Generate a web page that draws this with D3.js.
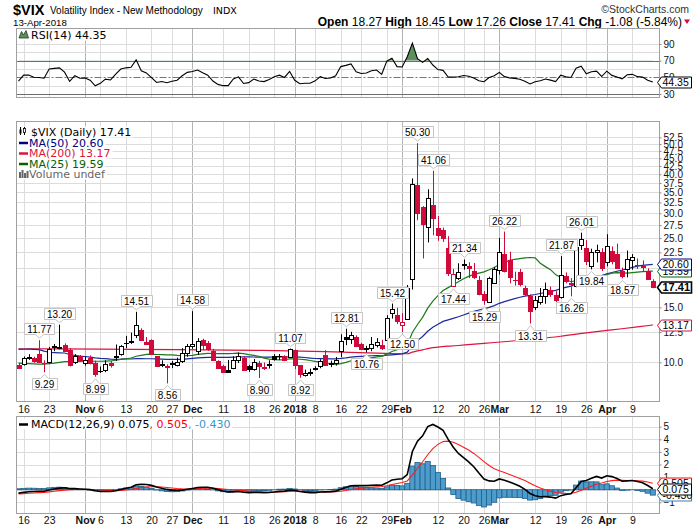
<!DOCTYPE html>
<html><head><meta charset="utf-8">
<script src="https://cdn.jsdelivr.net/npm/d3@7"></script>
<style>body{margin:0;background:#fff;} svg{display:block;font-family:"Liberation Sans",Arial,sans-serif;}</style>
</head><body><svg id="c" width="700" height="530"></svg>
<script>
// ---------------- DATA ----------------
const dates = [
"2017-10-13","2017-10-16","2017-10-17","2017-10-18","2017-10-19","2017-10-20","2017-10-23","2017-10-24","2017-10-25","2017-10-26","2017-10-27","2017-10-30","2017-10-31",
"2017-11-01","2017-11-02","2017-11-03","2017-11-06","2017-11-07","2017-11-08","2017-11-09","2017-11-10","2017-11-13","2017-11-14","2017-11-15","2017-11-16","2017-11-17","2017-11-20","2017-11-21","2017-11-22","2017-11-24","2017-11-27","2017-11-28","2017-11-29","2017-11-30",
"2017-12-01","2017-12-04","2017-12-05","2017-12-06","2017-12-07","2017-12-08","2017-12-11","2017-12-12","2017-12-13","2017-12-14","2017-12-15","2017-12-18","2017-12-19","2017-12-20","2017-12-21","2017-12-22","2017-12-26","2017-12-27","2017-12-28","2017-12-29",
"2018-01-02","2018-01-03","2018-01-04","2018-01-05","2018-01-08","2018-01-09","2018-01-10","2018-01-11","2018-01-12","2018-01-16","2018-01-17","2018-01-18","2018-01-19","2018-01-22","2018-01-23","2018-01-24","2018-01-25","2018-01-26","2018-01-29","2018-01-30","2018-01-31",
"2018-02-01","2018-02-02","2018-02-05","2018-02-06","2018-02-07","2018-02-08","2018-02-09","2018-02-12","2018-02-13","2018-02-14","2018-02-15","2018-02-16","2018-02-20","2018-02-21","2018-02-22","2018-02-23","2018-02-26","2018-02-27","2018-02-28",
"2018-03-01","2018-03-02","2018-03-05","2018-03-06","2018-03-07","2018-03-08","2018-03-09","2018-03-12","2018-03-13","2018-03-14","2018-03-15","2018-03-16","2018-03-19","2018-03-20","2018-03-21","2018-03-22","2018-03-23","2018-03-26","2018-03-27","2018-03-28","2018-03-29",
"2018-04-02","2018-04-03","2018-04-04","2018-04-05","2018-04-06","2018-04-09","2018-04-10","2018-04-11","2018-04-12","2018-04-13"];

const opens = [
9.80,9.85,10.40,10.30,10.60,9.95,10.05,11.25,11.15,11.35,10.95,10.00,10.45,
9.95,10.35,9.95,9.35,9.45,9.95,10.40,10.65,11.55,11.70,12.20,12.70,11.60,11.80,10.45,9.80,9.72,9.95,9.80,10.10,10.70,
11.30,10.85,11.75,11.55,10.90,10.10,9.75,9.42,9.60,10.20,10.30,9.75,9.50,9.95,9.68,9.82,10.50,10.50,10.45,10.40,
10.95,9.80,9.10,9.30,9.59,9.70,10.55,9.95,9.95,10.85,12.05,11.85,12.05,11.45,11.05,11.15,11.40,11.40,11.80,14.40,14.15,
13.20,13.76,18.44,37.00,31.36,27.10,31.90,27.00,26.50,23.30,17.60,18.60,20.55,20.40,19.60,18.40,16.50,15.60,18.00,
19.80,22.30,21.30,18.30,19.40,17.30,16.30,15.05,15.60,16.30,17.00,16.40,16.20,18.90,17.90,17.60,23.70,23.20,20.30,22.60,22.60,
20.90,22.80,22.30,19.60,19.90,21.30,20.50,20.30,19.60,18.27];
const highs = [
9.95,10.44,10.62,10.42,11.77,10.15,11.20,11.45,13.20,11.50,11.10,10.62,10.55,
10.42,10.52,10.12,9.70,10.15,10.10,11.40,11.35,12.15,12.45,14.51,12.85,12.05,11.85,10.45,10.15,9.85,10.10,10.35,11.10,11.45,
14.58,11.95,11.90,11.70,11.05,10.15,9.82,10.18,10.45,10.75,10.42,9.82,10.25,10.10,9.98,10.15,10.62,10.63,10.53,11.07,
10.99,9.80,9.47,9.54,9.71,10.23,10.93,10.12,10.40,12.30,12.81,12.52,12.20,11.54,11.30,12.05,11.95,11.80,14.15,15.42,14.95,
14.37,17.68,38.80,50.30,31.64,35.80,41.06,29.40,27.00,25.35,19.90,20.75,21.34,20.90,20.80,18.90,16.90,18.80,20.20,
25.00,26.22,22.60,19.50,19.90,17.60,16.50,16.30,17.30,18.00,17.50,16.90,21.87,19.40,18.60,23.60,26.01,24.60,23.10,23.80,23.20,
25.70,23.50,24.00,20.10,22.80,22.20,21.50,21.20,20.00,18.45];
const lows = [
9.52,9.76,10.18,9.96,9.95,9.29,9.92,10.85,11.00,10.80,9.70,9.88,10.10,
9.75,9.85,8.99,9.24,9.30,9.62,10.10,10.50,11.10,11.45,11.95,11.70,11.35,10.60,9.70,9.65,8.56,9.58,9.70,9.95,10.42,
11.05,10.55,10.95,10.88,10.12,9.52,9.30,9.25,9.50,9.95,9.38,9.32,9.40,8.90,9.45,9.55,10.13,10.18,10.09,10.30,
9.52,8.92,9.00,9.05,9.41,9.57,9.75,9.65,9.76,10.40,11.35,11.45,11.23,10.95,10.76,10.85,11.15,10.95,11.65,13.80,13.26,
12.50,13.70,17.10,28.50,21.50,24.20,25.50,24.50,24.30,18.90,17.44,18.35,19.80,18.60,18.50,16.40,15.29,15.50,17.90,
19.10,19.40,17.90,17.60,17.50,16.30,13.31,14.70,15.30,15.40,16.20,15.60,16.00,17.90,16.26,17.40,22.90,20.50,19.84,20.90,19.60,
20.30,20.60,19.90,18.57,18.70,19.80,19.90,19.50,18.40,17.26];
const closes = [
9.61,10.31,10.31,10.07,10.05,9.97,11.07,11.16,11.23,10.85,9.80,10.50,10.18,
10.20,9.93,9.14,9.40,9.89,9.78,10.50,11.29,11.50,11.59,13.13,11.76,11.43,10.65,9.73,9.88,9.67,9.87,10.03,10.70,11.28,
11.43,11.68,11.33,11.02,10.16,9.58,9.34,9.34,10.18,10.49,9.42,9.53,10.03,9.72,9.62,9.90,10.25,10.47,10.18,11.04,
9.77,9.15,9.22,9.22,9.52,10.08,9.82,9.88,10.16,11.66,11.91,12.22,11.27,11.03,11.10,11.47,11.58,11.08,13.84,14.79,13.54,
13.47,17.31,37.32,29.98,27.73,33.46,29.06,25.61,24.97,19.26,19.13,19.46,20.60,20.02,18.72,16.49,15.80,18.59,19.85,
22.47,19.59,18.73,18.36,17.76,16.54,14.64,15.78,16.35,17.23,16.59,15.80,19.02,18.20,17.86,23.34,24.87,21.03,22.50,22.87,19.97,
23.62,21.10,20.06,18.94,21.49,21.77,20.47,20.24,18.49,17.41];
// closes before the visible window (Aug 1 - Oct 12, 2017), used for indicator warm-up
const priorCloses = [
10.09,10.28,10.44,10.03,9.93,10.96,11.11,16.04,15.51,12.33,12.04,11.74,15.55,14.26,13.19,11.35,12.25,11.78,11.28,11.32,11.70,11.22,10.59,
10.13,12.23,11.63,11.55,12.12,10.73,10.58,10.50,10.44,10.17,10.15,10.18,9.78,9.67,9.59,10.21,10.17,9.87,9.55,9.51,
9.45,9.51,9.63,9.19,9.65,10.33,10.08,9.85,9.91];

// 200-day MA
const ma200Dates = ["2017-10-13","2017-11-06","2017-11-28","2017-12-20","2018-01-10","2018-01-25","2018-02-02","2018-02-05","2018-02-06","2018-02-07","2018-02-08","2018-02-09","2018-02-16","2018-02-26","2018-03-05","2018-03-12","2018-03-19","2018-03-26","2018-04-03","2018-04-10","2018-04-13"];
const ma200Values = [11.05,11.02,10.98,10.92,10.82,10.70,10.65,10.78,10.88,10.96,11.06,11.14,11.32,11.50,11.68,11.88,12.12,12.42,12.70,12.98,13.17];

const tickDates = ["2017-10-16","2017-10-23","2017-11-01","2017-11-06","2017-11-13","2017-11-20","2017-11-27","2017-12-01","2017-12-11","2017-12-18","2017-12-26","2018-01-02","2018-01-08","2018-01-16","2018-01-22","2018-01-29","2018-02-01","2018-02-12","2018-02-20","2018-02-26","2018-03-01","2018-03-12","2018-03-19","2018-03-26","2018-04-02","2018-04-09"];
const tickLabels = ["16","23","Nov","6","13","20","27","Dec","11","18","26","2018","8","16","22","29","Feb","12","20","26","Mar","12","19","26","Apr","9"];
const monthLabels = ["Nov","Dec","2018","Feb","Mar","Apr"];

const highMarkDates = ["2017-10-19","2017-10-25","2017-11-15","2017-12-01","2017-12-29","2018-01-17","2018-01-30","2018-02-06","2018-02-09","2018-02-20","2018-03-02","2018-03-19","2018-03-23"];
const lowMarkDates = ["2017-10-20","2017-11-03","2017-11-24","2017-12-20","2018-01-03","2018-01-23","2018-02-01","2018-02-15","2018-02-26","2018-03-09","2018-03-21","2018-03-27","2018-04-05"];

const priceGrid = [52.5,50,47.5,45,42.5,40,37.5,35,32.5,30,27.5,25,22.5,20,17.5,15,12.5,10];
const priceLabels = [52.5,50,47.5,45,42.5,40,37.5,35,32.5,30,27.5,25,22.5,15,12.5,10]; // 20.0 / 17.5 sit under the value tags
const rsiTicks = [90,70,50,30];
const rsiGrid = [90,80,60,40];
const macdGrid = [5,4,3,2,1,0,-1];
const macdLabels = [5,4,3,2,1,-1];

const quoteLabels = ["Open","High","Low","Close","Chg"];
const quoteValues = ["18.27","18.45","17.26","17.41","-1.08 (-5.84%)"];
const rsiLast = "44.35";
const maLast = {ma50:"20.60", ma200:"13.17", ma25:"19.59"};
const macdLast = ["0.075","0.505","-0.430"];

// ---------------- LAYOUT ----------------
const svg = d3.select("#c");
const PL = 16.5, PR = 659.5;
const rsiTop = 28.5, rsiBot = 97.5, mainTop = 121.5, mainBot = 401.5, macdTop = 416.5, macdBot = 513.5;
const GRID = "#dcdcdc", GRIDM = "#b4b4b4", BORDER = "#a0a0a0";
const RED = "#d10a3c";

const x = d3.scalePoint().domain(dates).range([18.5, 652.8]);
const step = x.step();
const yP = d3.scaleLog().domain([10, 52.5]).range([362.3, 137.4]);
const yR = d3.scaleLinear().domain([30, 90]).range([94, 44]);
const yM = d3.scaleLinear().domain([-1, 5]).range([502.3, 426.7]);
const px = d => Math.round(x(d)) + 0.5;

// ---------------- INDICATORS ----------------
const all = priorCloses.concat(closes);
const off = priorCloses.length;
const sma = n => closes.map((c, i) => d3.mean(all.slice(i + off - n + 1, i + off + 1)));
const ma50 = sma(50), ma25 = sma(25);
const rsi = [];
{ let ag = 0, al = 0;
  for (let k = 1; k < all.length; k++) {
    const ch = all[k] - all[k - 1], g = Math.max(ch, 0), l = Math.max(-ch, 0);
    if (k <= 14) { ag += g / 14; al += l / 14; } else { ag = (ag * 13 + g) / 14; al = (al * 13 + l) / 14; }
    if (k >= off) rsi.push(100 - 100 / (1 + ag / al));
  } }
const ema = (arr, n) => { const a = 2 / (n + 1); let e; return arr.map((v, i) => (e = i === 0 ? v : a * v + (1 - a) * e)); };
const e12 = ema(all, 12), e26 = ema(all, 26);
const macdAll = e12.map((v, i) => v - e26[i]);
const sigAll = ema(macdAll, 9);
const macd = macdAll.slice(off), signal = sigAll.slice(off);
const hist = macd.map((v, i) => v - signal[i]);

// ---------------- HELPERS ----------------
const defs = svg.append("defs");
function clip(id, top, bot) {
  defs.append("clipPath").attr("id", id).append("rect").attr("x", PL).attr("y", top).attr("width", PR - PL).attr("height", bot - top);
  return svg.append("g").attr("clip-path", `url(#${id})`);
}
function vgrid(g, top, bot) {
  g.selectAll(null).data(tickDates).join("line")
    .attr("x1", d => px(d)).attr("x2", d => px(d)).attr("y1", top).attr("y2", bot)
    .attr("stroke", (d, i) => monthLabels.includes(tickLabels[i]) ? GRIDM : GRID).attr("stroke-width", 1);
}
function hgrid(g, vals, sc, color) {
  g.selectAll(null).data(vals).join("line")
    .attr("x1", PL).attr("x2", PR).attr("y1", d => Math.round(sc(d)) + 0.5).attr("y2", d => Math.round(sc(d)) + 0.5)
    .attr("stroke", color || GRID);
}
function border(top, bot) {
  svg.append("rect").attr("x", PL).attr("y", top).attr("width", PR - PL).attr("height", bot - top)
    .attr("fill", "none").attr("stroke", BORDER);
}
function tag(y, text, stroke, opts) {
  opts = opts || {};
  const x0 = 657.5, x1 = opts.x1 || 691.5, h = 5.5, yy = Math.round(y) + 0.5;
  svg.append("path").attr("d", `M${x0},${yy} L${x0 + 4},${yy - h} H${x1} V${yy + h} H${x0 + 4} Z`)
    .attr("fill", "#fff").attr("stroke", stroke).attr("stroke-width", opts.sw || 1);
  svg.append("text").attr("x", x0 + 5).attr("y", yy + 3.8).attr("font-size", opts.fs || 10.5)
    .attr("font-weight", opts.bold ? "bold" : null).attr("fill", opts.color || "#000").text(text);
}
function rightAxis(sc, vals, fmt, fs) {
  const g = svg.append("g").attr("transform", `translate(${PR},0)`)
    .call(d3.axisRight(sc).tickValues(vals).tickFormat(fmt).tickSize(2).tickPadding(2));
  g.select(".domain").remove();
  g.selectAll("text").attr("font-size", fs || 10).attr("fill", "#111").attr("font-family", '"Liberation Sans",Arial,sans-serif');
  g.selectAll("line").attr("stroke", "#888");
}
function bottomAxis(yPos) {
  const g = svg.append("g").attr("transform", `translate(0,${yPos})`)
    .call(d3.axisBottom(x).tickValues(tickDates).tickFormat((d, i) => tickLabels[i]).tickSize(0).tickPadding(0));
  g.select(".domain").remove();
  g.selectAll("text").attr("font-size", 10.5).attr("fill", "#111").attr("font-family", '"Liberation Sans",Arial,sans-serif')
    .attr("font-weight", (d, i) => monthLabels.includes(tickLabels[i]) ? "bold" : null);
}
function legendText(g, xx, yy, parts, family) {
  const t = g.append("text").attr("x", xx).attr("y", yy).attr("font-size", 11).attr("font-family", family || '"DejaVu Sans",Verdana,sans-serif');
  parts.forEach(p => t.append("tspan").attr("fill", p[1]).text(p[0]));
  const w = t.node().getComputedTextLength();
  g.insert("rect", "text").attr("x", 17).attr("y", yy - 9.5).attr("width", xx - 17 + w + 2).attr("height", 11).attr("fill", "#fff");
  return t;
}

// ---------------- HEADER ----------------
svg.append("text").attr("x", 13).attr("y", 14.5).attr("font-size", 14.5).attr("font-weight", "bold").text("$VIX");
svg.append("text").attr("x", 50).attr("y", 14).attr("font-size", 10).text("Volatility Index - New Methodology");
svg.append("text").attr("x", 213).attr("y", 14).attr("font-size", 9.5).attr("font-family", '"DejaVu Sans",Verdana,sans-serif').text("INDX");
svg.append("text").attr("x", 689).attr("y", 13).attr("text-anchor", "end").attr("font-size", 10.5).attr("fill", "#333").text("\u00a9StockCharts.com");
svg.append("text").attr("x", 13).attr("y", 26).attr("font-size", 9.7).text("13-Apr-2018");
{ const q = svg.append("text").attr("x", 682).attr("y", 26).attr("text-anchor", "end").attr("font-size", 12);
  quoteLabels.forEach((l, i) => {
    q.append("tspan").attr("font-weight", "bold").text(l);
    q.append("tspan").text(" " + quoteValues[i] + (i < quoteLabels.length - 1 ? " " : ""));
  });
  svg.append("path").attr("d", "M684,19.5 L690,19.5 L687,24 Z").attr("fill", RED); }

// ---------------- RSI PANEL ----------------
{ const g = clip("cr", rsiTop, rsiBot);
  vgrid(g, rsiTop, rsiBot);
  hgrid(g, rsiGrid, yR);
  hgrid(g, [70, 30], yR, "#6e6e6e");
  g.append("line").attr("x1", PL).attr("x2", PR).attr("y1", Math.round(yR(50)) + 0.5).attr("y2", Math.round(yR(50)) + 0.5)
    .attr("stroke", "#777").attr("stroke-dasharray", "7,2,2,2");
  defs.append("clipPath").attr("id", "over70").append("rect").attr("x", PL).attr("y", rsiTop).attr("width", PR - PL).attr("height", yR(70) - rsiTop);
  g.append("path").datum(rsi).attr("clip-path", "url(#over70)")
    .attr("d", d3.area().x((d, i) => x(dates[i])).y0(yR(70)).y1(d => yR(d)))
    .attr("fill", "#5e8f5e");
  g.append("path").datum(rsi).attr("d", d3.line().x((d, i) => x(dates[i])).y(d => yR(d)))
    .attr("fill", "none").attr("stroke", "#000").attr("stroke-width", 1.1);
  const lg = svg.append("g");
  legendText(lg, 31, 39, [["RSI(14) " + rsiLast, "#000"]]);
  lg.append("path").attr("d", "M19,38 L21.5,31.5 L23.5,35 L26,30.5 L28.5,38 Z").attr("fill", "#5e8f5e").attr("stroke", "#1f3f1f").attr("stroke-width", 0.8);
  border(rsiTop, rsiBot);
  rightAxis(yR, rsiTicks, d3.format("d"), 10);
  tag(yR(44.35), rsiLast, "#000");
}

// ---------------- MAIN PANEL ----------------
{ const g = clip("cm", mainTop, mainBot);
  vgrid(g, mainTop, mainBot);
  hgrid(g, priceGrid, yP);
  g.append("path").datum(ma200Dates.map((d, i) => [d, ma200Values[i]]))
    .attr("d", d3.line().x(d => x(d[0])).y(d => yP(d[1])).curve(d3.curveMonotoneX))
    .attr("fill", "none").attr("stroke", "#dc143c").attr("stroke-width", 1.2);
  g.append("path").datum(ma50).attr("d", d3.line().x((d, i) => x(dates[i])).y(d => yP(d)))
    .attr("fill", "none").attr("stroke", "#1c2a9c").attr("stroke-width", 1.2);
  g.append("path").datum(ma25).attr("d", d3.line().x((d, i) => x(dates[i])).y(d => yP(d)))
    .attr("fill", "none").attr("stroke", "#1a7a1a").attr("stroke-width", 1.2);
  dates.forEach((d, i) => {
    const prev = i === 0 ? priorCloses[priorCloses.length - 1] : closes[i - 1];
    const col = closes[i] >= prev ? "#000" : RED;
    const filled = closes[i] < opens[i];
    const cx = px(d);
    g.append("line").attr("x1", cx).attr("x2", cx).attr("y1", yP(highs[i])).attr("y2", yP(lows[i])).attr("stroke", col).attr("stroke-width", 1);
    const top = yP(Math.max(opens[i], closes[i])), bot = yP(Math.min(opens[i], closes[i]));
    g.append("rect").attr("x", cx - 2).attr("y", Math.round(top) + 0.5).attr("width", 4)
      .attr("height", Math.max(0.01, Math.round(bot) - Math.round(top)))
      .attr("fill", filled ? col : "#fff").attr("stroke", col).attr("stroke-width", 1);
  });
  const callout = (d, v, isHigh) => {
    const cx = px(d);
    const tip = isHigh ? yP(v) - 2 : yP(v) + 2;
    const t = svg.append("text").attr("font-size", 10).attr("text-anchor", "middle").attr("x", cx).text(d3.format(".2f")(v));
    const w = t.node().getComputedTextLength() + 6;
    const x0 = Math.round(cx - w / 2) + 0.5, x1 = x0 + Math.round(w);
    let path, y0, y1;
    if (isHigh) {
      y1 = Math.round(tip - 4) + 0.5; y0 = y1 - 11;
      path = `M${x0},${y0} H${x1} V${y1} H${cx + 4} L${cx},${tip} L${cx - 4},${y1} H${x0} Z`;
    } else {
      y0 = Math.round(tip + 4) + 0.5; y1 = y0 + 11;
      path = `M${x0},${y0} H${cx - 4} L${cx},${tip} L${cx + 4},${y0} H${x1} V${y1} H${x0} Z`;
    }
    svg.insert("path", () => t.node()).attr("d", path).attr("fill", "#fff").attr("stroke", "#c4c4c4");
    t.attr("y", y0 + 9);
  };
  highMarkDates.forEach(d => callout(d, highs[dates.indexOf(d)], true));
  lowMarkDates.forEach(d => callout(d, lows[dates.indexOf(d)], false));
  const lg = svg.append("g");
  legendText(lg, 31, 136, [["$VIX (Daily) " + closes[closes.length - 1].toFixed(2), "#000"]]);
  legendText(lg, 29, 146.5, [["MA(50) " + maLast.ma50, "#000080"]]);
  legendText(lg, 29, 157, [["MA(200) " + maLast.ma200, "#dc143c"]]);
  legendText(lg, 29, 167.5, [["MA(25) " + maLast.ma25, "#006400"]]);
  legendText(lg, 29, 178, [["Volume undef", "#666"]]);
  lg.append("line").attr("x1", 20.5).attr("x2", 20.5).attr("y1", 127).attr("y2", 135).attr("stroke", "#000");
  lg.append("rect").attr("x", 19.5).attr("y", 129.5).attr("width", 2).attr("height", 4).attr("fill", "#000");
  lg.append("line").attr("x1", 24.5).attr("x2", 24.5).attr("y1", 127).attr("y2", 135).attr("stroke", "#000");
  lg.append("rect").attr("x", 23.5).attr("y", 128.5).attr("width", 2).attr("height", 4).attr("fill", "#fff").attr("stroke", "#000").attr("stroke-width", 0.8);
  [["#000080", 143], ["#dc143c", 153.5], ["#006400", 164]].forEach(c =>
    lg.append("line").attr("x1", 19).attr("x2", 28).attr("y1", c[1]).attr("y2", c[1]).attr("stroke", c[0]).attr("stroke-width", 2.5));
  [[19, 172, 6], [21.5, 170, 8], [24, 173, 5], [26.5, 171, 7]].forEach(b =>
    lg.append("rect").attr("x", b[0]).attr("y", b[1]).attr("width", 2).attr("height", b[2]).attr("fill", "#666"));
  border(mainTop, mainBot);
  rightAxis(yP, priceLabels, d3.format(".1f"), 10);
  tag(yP(13.17), maLast.ma200, "#dc143c");
  tag(yP(19.59), maLast.ma25, "#006400");
  tag(yP(20.60), maLast.ma50, "#000080");
  tag(yP(17.41), "17.41", "#000", { bold: true, sw: 1.6, fs: 11 });
}
bottomAxis(406);

// ---------------- MACD PANEL ----------------
{ const g = clip("cc", macdTop, macdBot);
  vgrid(g, macdTop, macdBot);
  hgrid(g, macdGrid, yM);
  g.selectAll(null).data(hist).join("rect")
    .attr("x", (d, i) => x(dates[i]) - step / 2).attr("width", step)
    .attr("y", d => Math.min(yM(d), yM(0))).attr("height", d => Math.abs(yM(d) - yM(0)))
    .attr("fill", "#4d9ccc").attr("stroke", "#1e5f8a").attr("stroke-width", 0.8);
  g.append("path").datum(signal).attr("d", d3.line().x((d, i) => x(dates[i])).y(d => yM(d)))
    .attr("fill", "none").attr("stroke", "#ff1a1a").attr("stroke-width", 1.1);
  g.append("path").datum(macd).attr("d", d3.line().x((d, i) => x(dates[i])).y(d => yM(d)))
    .attr("fill", "none").attr("stroke", "#000").attr("stroke-width", 1.6);
  const lg = svg.append("g");
  legendText(lg, 31, 428, [["MACD(12,26,9) " + macdLast[0], "#000"], [", " + macdLast[1], "#ff0000"], [", " + macdLast[2], "#3399cc"]]);
  lg.append("line").attr("x1", 19).attr("x2", 28).attr("y1", 424.5).attr("y2", 424.5).attr("stroke", "#000").attr("stroke-width", 2.5);
  border(macdTop, macdBot);
  rightAxis(yM, macdLabels, d3.format("d"), 10);
  tag(yM(0.505), macdLast[1], "#ff0000", { color: "#000" });
  tag(yM(-0.430), macdLast[2], "#3d7fb8");
  tag(yM(0.075), macdLast[0], "#000");
}
bottomAxis(517);
</script></body></html>
